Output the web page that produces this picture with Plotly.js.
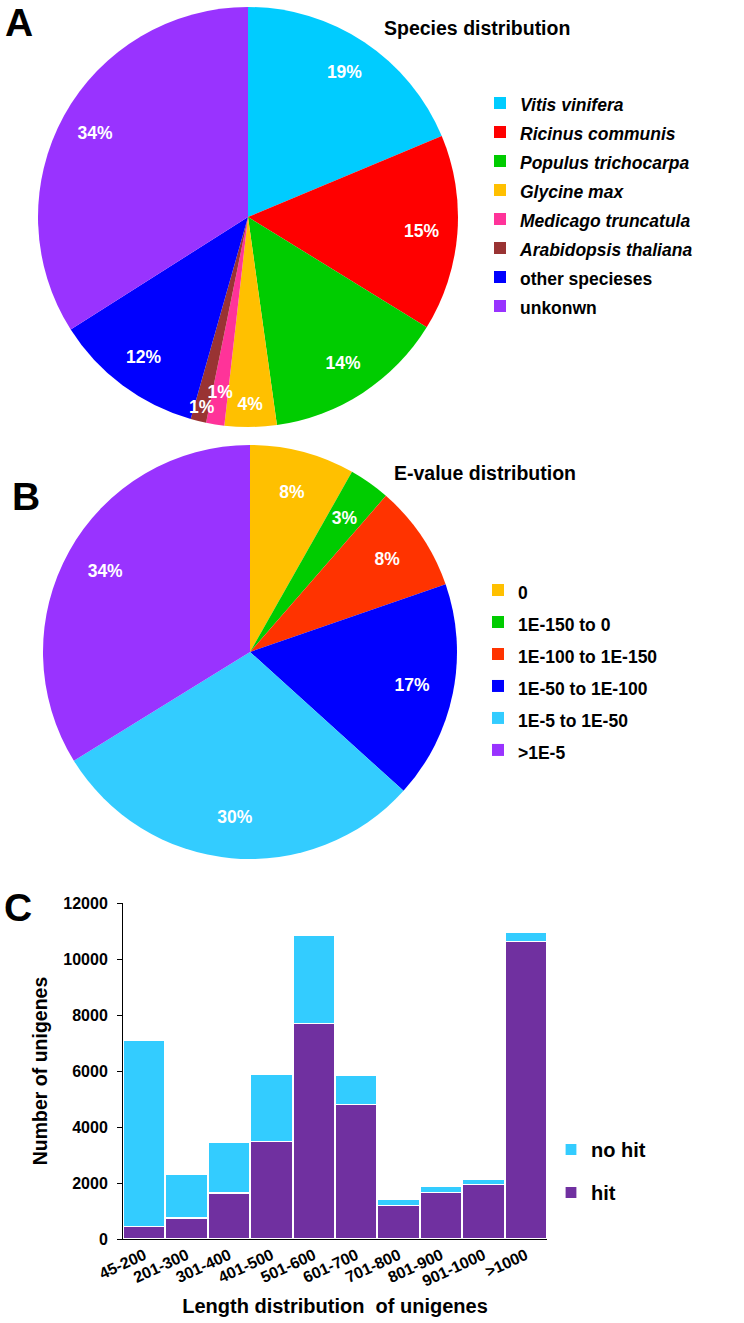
<!DOCTYPE html>
<html><head><meta charset="utf-8">
<script src="https://cdn.plot.ly/plotly-3.0.1.min.js"></script>
<style>html,body{margin:0;padding:0;background:#fff}#chart{width:744px;height:1323px}</style>
</head><body><div id="chart"></div>
<script>
// ---- Panel A: species distribution ----
const speciesLabels = ['Vitis vinifera','Ricinus communis','Populus trichocarpa','Glycine max','Medicago truncatula','Arabidopsis thaliana','other specieses','unkonwn'];
const speciesItalic = [true,true,true,true,true,true,false,false];
const speciesValues = [18.7,15.1,14.0,4.0,1.4,1.2,11.6,34.0];
const speciesColors = ['#00CCFF','#FF0000','#00CC00','#FFC000','#FF3399','#993333','#0000FF','#9933FF'];

// ---- Panel B: E-value distribution ----
const evalueLabels = ['0','1E-150 to 0','1E-100 to 1E-150','1E-50 to 1E-100','1E-5 to 1E-50','>1E-5'];
const evalueValues = [8.2,3.2,8.3,17.0,29.5,33.8];
const evalueColors = ['#FFC000','#00CC00','#FF3300','#0000FF','#33CCFF','#9933FF'];

// ---- Panel C: length distribution ----
const lengthBins = ['45-200','201-300','301-400','401-500','501-600','601-700','701-800','801-900','901-1000','>1000'];
const hitCounts   = [450,750,1640,3480,7710,4800,1200,1650,1940,10620];
const noHitCounts = [6650,1540,1810,2400,3120,1030,200,230,200,330];

const FONT = 'Liberation Sans, Arial, sans-serif';
const W = 744, H = 1323;
const px = v => v / W;
const py = v => 1 - v / H;

function legendText(label, italic, size) {
  const t = italic ? '<i>' + label + '</i>' : label;
  return '<span style="font-size:' + size + 'px">' + t + '</span>';
}
const pct = v => Math.round(v) + '%';
const labelFont = {family: FONT, size: 17.5, color: '#FFFFFF', weight: 'bold'};

// pie placement (centre and radius in page pixels)
function circleDomain(cx, cy, r) {
  return {x: [px(cx - r), px(cx + r)], y: [py(cy + r), py(cy - r)]};
}
const PIE_A = {cx: 248, cy: 217, r: 210};
const PIE_B = {cx: 250, cy: 652, r: 207};

function basePie(values, labels, colors, pos, legend) {
  return {
    type: 'pie', sort: false, direction: 'clockwise', rotation: 0,
    values: values, labels: labels, textinfo: 'none',
    marker: {colors: colors, line: {width: 0}},
    domain: circleDomain(pos.cx, pos.cy, pos.r), legend: legend, hoverinfo: 'none'
  };
}
// invisible overlay carrying percentage labels for the chosen slices, placed further out
function labelRing(values, labels, pos, scale, hole, show) {
  return {
    type: 'pie', sort: false, direction: 'clockwise', rotation: 0, hole: hole,
    values: values, labels: labels,
    text: values.map((v, i) => show(i) ? pct(v) : ''),
    textinfo: 'text', texttemplate: '%{text}', textposition: 'inside',
    insidetextorientation: 'horizontal', insidetextfont: labelFont,
    marker: {colors: values.map(() => 'rgba(0,0,0,0)'), line: {width: 0}},
    domain: circleDomain(pos.cx, pos.cy, pos.r * scale), showlegend: false, hoverinfo: 'none'
  };
}

const labelsA = speciesLabels.map((l, i) => legendText(l, speciesItalic[i], 17.5));
const labelsB = evalueLabels.map(l => legendText(l, false, 17.5));

// thin slices get their labels at individual depths, as in the original
const iMed = speciesLabels.indexOf('Medicago truncatula');
const iAra = speciesLabels.indexOf('Arabidopsis thaliana');
const iE150 = evalueLabels.indexOf('1E-150 to 0');

const traces = [
  basePie(speciesValues, labelsA, speciesColors, PIE_A, 'legend'),
  labelRing(speciesValues, labelsA, PIE_A, 1.0, 0.66, i => i !== iMed && i !== iAra),
  labelRing(speciesValues, labelsA, PIE_A, 0.965, 0.6, i => i === iAra),
  labelRing(speciesValues, labelsA, PIE_A, 0.88, 0.6, i => i === iMed),
  basePie(evalueValues, labelsB, evalueColors, PIE_B, 'legend2'),
  labelRing(evalueValues, labelsB, PIE_B, 1.0, 0.6, i => i !== iE150),
  labelRing(evalueValues, labelsB, PIE_B, 0.87, 0.6, i => i === iE150),
  {
    type: 'bar', name: 'hit', x: lengthBins, y: hitCounts,
    marker: {color: '#7030A0', line: {color: '#FFFFFF', width: 1.2}},
    legend: 'legend3', legendgroup: 'g2', legendrank: 2, hoverinfo: 'none',
    xaxis: 'x', yaxis: 'y'
  },
  {
    type: 'bar', name: 'no hit', x: lengthBins, y: noHitCounts,
    marker: {color: '#33CCFF', line: {color: '#FFFFFF', width: 1.2}},
    legend: 'legend3', legendgroup: 'g1', legendrank: 1, hoverinfo: 'none',
    xaxis: 'x', yaxis: 'y'
  }
];

const layout = {
  width: W, height: H,
  margin: {l: 0, r: 0, t: 0, b: 0},
  paper_bgcolor: '#FFFFFF', plot_bgcolor: 'rgba(0,0,0,0)',
  font: {family: FONT, color: '#000000'},
  showlegend: true,
  uniformtext: {minsize: 17.5, mode: 'show'},
  barmode: 'stack', bargap: 0.02,
  legend: {
    x: px(480), y: py(83.5), xanchor: 'left', yanchor: 'top',
    font: {family: FONT, size: 20, weight: 'bold', color: '#000'},
    bgcolor: 'rgba(0,0,0,0)', traceorder: 'normal'
  },
  legend2: {
    x: px(478), y: py(569), xanchor: 'left', yanchor: 'top',
    font: {family: FONT, size: 22.3, weight: 'bold', color: '#000'},
    bgcolor: 'rgba(0,0,0,0)', traceorder: 'normal'
  },
  legend3: {
    x: px(551), y: py(1130), xanchor: 'left', yanchor: 'top',
    font: {family: FONT, size: 20, weight: 'bold', color: '#000'},
    bgcolor: 'rgba(0,0,0,0)', traceorder: 'grouped', tracegroupgap: 14
  },
  xaxis: {
    domain: [px(123), px(547)], anchor: 'y', type: 'category',
    showline: true, linecolor: '#000', linewidth: 1, ticks: '', showgrid: false,
    tickangle: -25, tickfont: {family: FONT, size: 16, weight: 'bold', color: '#000'},
    title: {text: 'Length distribution  of unigenes', font: {family: FONT, size: 20, weight: 'bold', color: '#000'}, standoff: 10},
    automargin: false, fixedrange: true
  },
  yaxis: {
    domain: [py(1239), py(903)], anchor: 'x', range: [0, 12000], dtick: 2000, tickformat: 'd',
    showline: true, linecolor: '#000', linewidth: 1, ticks: 'outside', ticklen: 5, tickcolor: '#000',
    showgrid: false, zeroline: false, ticklabelstandoff: 6,
    tickfont: {family: FONT, size: 16, weight: 'bold', color: '#000'},
    title: {text: 'Number of unigenes', font: {family: FONT, size: 19.5, weight: 'bold', color: '#000'}, standoff: 10},
    automargin: false, fixedrange: true
  },
  annotations: [
    {text: 'A', x: px(19), y: py(22), xref: 'paper', yref: 'paper', showarrow: false, xanchor: 'center', yanchor: 'middle', font: {family: FONT, size: 39, weight: 'bold', color: '#000'}},
    {text: 'B', x: px(26), y: py(497), xref: 'paper', yref: 'paper', showarrow: false, xanchor: 'center', yanchor: 'middle', font: {family: FONT, size: 39, weight: 'bold', color: '#000'}},
    {text: 'C', x: px(18), y: py(907), xref: 'paper', yref: 'paper', showarrow: false, xanchor: 'center', yanchor: 'middle', font: {family: FONT, size: 39, weight: 'bold', color: '#000'}},
    {text: 'Species distribution', x: px(477), y: py(28), xref: 'paper', yref: 'paper', showarrow: false, xanchor: 'center', yanchor: 'middle', font: {family: FONT, size: 19.5, weight: 'bold', color: '#000'}},
    {text: 'E-value distribution', x: px(485), y: py(473), xref: 'paper', yref: 'paper', showarrow: false, xanchor: 'center', yanchor: 'middle', font: {family: FONT, size: 19.5, weight: 'bold', color: '#000'}}
  ]
};

Plotly.newPlot('chart', traces, layout, {displayModeBar: false, staticPlot: true});
</script>
</body></html>
